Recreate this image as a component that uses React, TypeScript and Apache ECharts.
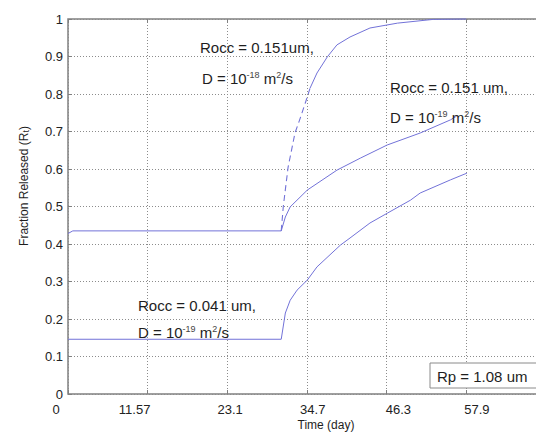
import React, { useEffect, useRef } from "react";
import * as echarts from "echarts";

// ---- tick labels ----
const xTickStep = 11.57;
const xTickLabels = ["0", "11.57", "23.1", "34.7", "46.3", "57.9", ""];
const xLabelShift = [-12, -13, 3, 6, 12, 11, 0];
const yTickLabels = ["0", "0.1", "0.2", "0.3", "0.4", "0.5", "0.6", "0.7", "0.8", "0.9", "1"];

// ---- series: Rocc = 0.151 um, D = 1e-19 (flat start + slow rise) ----
const slowTime = [0, 0.7, 31.0, 31.6, 32.3, 34.8, 39.1, 42.5, 46.4, 51.2, 55.6, 56.5];
const slowFrac = [0.428, 0.435, 0.435, 0.472, 0.499, 0.544, 0.597, 0.629, 0.664, 0.696, 0.731, 0.741];

// ---- series: Rocc = 0.151 um, D = 1e-18 (steep rise; lower part drawn dashed) ----
const fastDashTime = [31.0, 31.3, 32.0, 33.0, 33.75, 34.5, 35.2];
const fastDashFrac = [0.435, 0.5, 0.605, 0.696, 0.735, 0.776, 0.816];
const fastTime = [35.2, 36.2, 37.7, 39.1, 41.0, 43.9, 47.9, 53.1, 57.9];
const fastFrac = [0.816, 0.856, 0.899, 0.931, 0.952, 0.976, 0.989, 0.999, 1.0];

// ---- series: Rocc = 0.041 um, D = 1e-19 ----
const smallTime = [0, 31.0, 31.6, 32.3, 33.3, 34.8, 36.2, 39.6, 41.0, 43.9, 46.4, 49.8, 51.2, 55.6, 58.0];
const smallFrac = [0.146, 0.146, 0.216, 0.25, 0.277, 0.304, 0.339, 0.397, 0.416, 0.456, 0.482, 0.517, 0.536, 0.571, 0.589];

const zip = (a: number[], b: number[]) => a.map((v, i) => [v, b[i]]);

const LINE = "#7272d8";
const TXT = "#1e1e1e";
const FONT = "'Liberation Sans', Arial, Helvetica, sans-serif";

export default function App() {
  const ref = useRef<HTMLDivElement>(null);

  useEffect(() => {
    if (!ref.current) return;
    const chart = echarts.init(ref.current, undefined, { renderer: "svg" });

    const rich: Record<string, any> = {};
    xLabelShift.forEach((s, i) => {
      rich["l" + i] = {
        fontSize: 13,
        fontFamily: FONT,
        color: "#222",
        padding: s < 0 ? [0, -2 * s, 0, 0] : [0, 0, 0, 2 * s],
      };
    });

    const supRich = {
      sup: { fontSize: 9, fontFamily: FONT, fill: "#444", verticalAlign: "top" },
    };

    const annot = (x: number, y: number, text: string) => ({
      type: "text",
      x,
      y,
      z: 100,
      style: {
        text,
        fontSize: 15,
        fontFamily: FONT,
        fill: TXT,
        align: "left",
        verticalAlign: "middle",
        rich: supRich,
      },
    });

    const tickCommon = { show: true, inside: true, length: 4, lineStyle: { color: "#808080" } };
    const splitCommon = { show: true, lineStyle: { color: "#8c8c8c", type: [1, 2], width: 1 } };

    chart.setOption({
      animation: false,
      backgroundColor: "#ffffff",
      grid: {
        left: 68,
        top: 19,
        right: 14.5,
        bottom: 40,
        show: true,
        borderColor: "#808080",
        borderWidth: 1.5,
        backgroundColor: "#ffffff",
      },
      xAxis: [
        {
          type: "value",
          min: 0,
          max: 6 * xTickStep,
          interval: xTickStep,
          axisLine: { show: false },
          axisTick: tickCommon,
          splitLine: splitCommon,
          axisLabel: {
            margin: 9,
            formatter: (v: number) => {
              const i = Math.round(v / xTickStep);
              const t = xTickLabels[i] ?? "";
              return t ? `{l${i}|${t}}` : "";
            },
            rich,
          },
        },
        {
          type: "value",
          position: "top",
          min: 0,
          max: 6 * xTickStep,
          interval: xTickStep,
          axisLine: { show: false },
          axisTick: tickCommon,
          splitLine: { show: false },
          axisLabel: { show: false },
        },
      ],
      yAxis: [
        {
          type: "value",
          min: 0,
          max: 1,
          interval: 0.1,
          axisLine: { show: false },
          axisTick: tickCommon,
          splitLine: splitCommon,
          axisLabel: {
            margin: 5,
            fontSize: 13,
            fontFamily: FONT,
            color: "#222",
            formatter: (v: number) => yTickLabels[Math.round(v * 10)] ?? "",
          },
        },
      ],
      series: [
        {
          type: "line",
          name: "Rocc 0.151 um, D 1e-19",
          data: zip(slowTime, slowFrac),
          symbol: "none",
          lineStyle: { color: LINE, width: 1 },
        },
        {
          type: "line",
          name: "Rocc 0.151 um, D 1e-18 (dashed part)",
          data: zip(fastDashTime, fastDashFrac),
          symbol: "none",
          lineStyle: { color: LINE, width: 1.1, type: [6, 4] },
        },
        {
          type: "line",
          name: "Rocc 0.151 um, D 1e-18",
          data: zip(fastTime, fastFrac),
          symbol: "none",
          clip: false,
          lineStyle: { color: LINE, width: 1 },
        },
        {
          type: "line",
          name: "Rocc 0.041 um, D 1e-19",
          data: zip(smallTime, smallFrac),
          symbol: "none",
          lineStyle: { color: LINE, width: 1 },
        },
      ],
      graphic: [
        annot(200, 47, "Rocc = 0.151um,"),
        annot(202, 78, "D = 10{sup|-18} m{sup|2}/s"),
        annot(390, 87, "Rocc = 0.151 um,"),
        annot(390, 117, "D = 10{sup|-19} m{sup|2}/s"),
        annot(138, 305, "Rocc = 0.041 um,"),
        annot(138, 332, "D = 10{sup|-19} m{sup|2}/s"),
        {
          type: "rect",
          z: 100,
          shape: { x: 430, y: 363, width: 112, height: 25 },
          style: { fill: "#ffffff", stroke: "#8a8a8a", lineWidth: 1 },
        },
        {
          type: "text",
          x: 437,
          y: 376,
          z: 101,
          style: {
            text: "Rp = 1.08 um",
            fontSize: 15,
            fontFamily: FONT,
            fill: TXT,
            align: "left",
            verticalAlign: "middle",
          },
        },
        {
          type: "text",
          x: 326,
          y: 425,
          z: 100,
          style: {
            text: "Time (day)",
            fontSize: 12,
            fontFamily: FONT,
            fill: TXT,
            align: "center",
            verticalAlign: "middle",
          },
        },
        {
          type: "text",
          x: 24,
          y: 186,
          z: 100,
          rotation: Math.PI / 2,
          style: {
            text: "Fraction Released (R{sub|t})",
            fontSize: 12,
            fontFamily: FONT,
            fill: TXT,
            align: "center",
            verticalAlign: "middle",
            rich: {
              sub: { fontSize: 9, fontFamily: FONT, fill: TXT, verticalAlign: "bottom" },
            },
          },
        },
      ],
    });

    return () => chart.dispose();
  }, []);

  return (
    <div
      style={{
        position: "absolute",
        left: 0,
        top: 0,
        width: 536,
        height: 434,
        overflow: "hidden",
        background: "#ffffff",
      }}
    >
      <div ref={ref} style={{ width: 560, height: 434 }} />
    </div>
  );
}
